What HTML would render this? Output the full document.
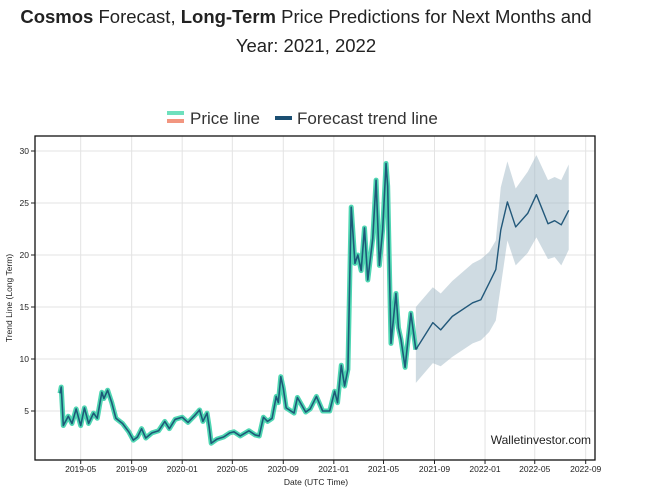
<!DOCTYPE html>
<html><head><meta charset="utf-8"><style>
body{margin:0;background:#fff;width:653px;height:499px;overflow:hidden;font-family:"Liberation Sans",sans-serif;}
svg{position:absolute;left:0;top:0}
</style></head><body>
<svg id="chart" width="653" height="499">
<text x="306" y="23" text-anchor="middle" font-size="18.5" fill="#222"><tspan font-weight="bold">Cosmos</tspan> Forecast, <tspan font-weight="bold">Long-Term</tspan> Price Predictions for Next Months and</text>
<text x="306" y="52" text-anchor="middle" font-size="18.5" fill="#222">Year: 2021, 2022</text>
<g>
<rect x="167" y="111" width="17" height="4" fill="#6ee0bd"/>
<rect x="167" y="119" width="17" height="4" fill="#f29680"/>
<text x="190" y="124" font-size="17" fill="#333">Price line</text>
<rect x="275" y="116" width="17" height="4" fill="#1b4f72"/>
<text x="297" y="124" font-size="17" fill="#333">Forecast trend line</text>
</g>
<g id="grid"></g>
<g id="marks"></g>
<rect x="35" y="136" width="560" height="324" fill="none" stroke="#111" stroke-width="1.3"/>
<g id="axes"></g>
<text x="591" y="444" text-anchor="end" font-size="12" fill="#222">Walletinvestor.com</text>
<text x="316" y="485" text-anchor="middle" font-size="8.5" fill="#222">Date (UTC Time)</text>
<text transform="translate(12,298) rotate(-90)" text-anchor="middle" font-size="8.5" fill="#222">Trend Line (Long Term)</text>
</svg>
<script>
const yTicks=[5,10,15,20,25,30];
const xTicks=["2019-05","2019-09","2020-01","2020-05","2020-09","2021-01","2021-05","2021-09","2022-01","2022-05","2022-09"];
const priceDates=["2019-03-12","2019-03-15","2019-03-20","2019-04-01","2019-04-10","2019-04-20","2019-05-01","2019-05-10","2019-05-20","2019-06-01","2019-06-10","2019-06-21","2019-06-26","2019-07-05","2019-07-15","2019-07-25","2019-08-10","2019-08-25","2019-09-05","2019-09-15","2019-09-25","2019-10-05","2019-10-20","2019-11-05","2019-11-20","2019-12-01","2019-12-15","2020-01-01","2020-01-15","2020-02-01","2020-02-12","2020-02-20","2020-03-01","2020-03-06","2020-03-11","2020-03-25","2020-04-10","2020-04-25","2020-05-05","2020-05-20","2020-06-10","2020-06-25","2020-07-05","2020-07-15","2020-07-25","2020-08-05","2020-08-15","2020-08-20","2020-08-26","2020-09-01","2020-09-08","2020-09-27","2020-10-05","2020-10-25","2020-11-05","2020-11-20","2020-12-05","2020-12-22","2021-01-03","2021-01-10","2021-01-19","2021-01-27","2021-02-04","2021-02-12","2021-02-21","2021-02-28","2021-03-08","2021-03-16","2021-03-24","2021-04-05","2021-04-13","2021-04-21","2021-04-29","2021-05-07","2021-05-11","2021-05-19","2021-05-31","2021-06-06","2021-06-12","2021-06-22","2021-07-06","2021-07-18"];
const priceValues=[6.7,7.3,3.6,4.5,3.8,5.2,3.6,5.3,3.8,4.8,4.3,6.8,6.2,7.0,5.8,4.3,3.8,3.0,2.2,2.5,3.3,2.4,2.9,3.1,4.0,3.3,4.2,4.4,3.9,4.6,5.1,4.0,4.8,3.5,1.9,2.3,2.5,2.9,3.0,2.6,3.1,2.7,2.6,4.4,4.0,4.3,6.4,5.8,8.3,7.2,5.3,4.8,6.3,4.9,5.2,6.4,5.0,5.0,6.9,5.8,9.4,7.4,9.0,24.6,19.2,20.0,18.5,22.6,17.6,21.6,27.2,19.0,22.5,28.8,26.6,11.5,16.3,13.0,11.9,9.2,14.4,10.9];
const fcDates=["2021-07-18","2021-08-28","2021-09-16","2021-10-14","2021-12-02","2021-12-22","2022-01-11","2022-01-27","2022-02-08","2022-02-24","2022-03-16","2022-04-14","2022-05-05","2022-06-02","2022-06-18","2022-07-04","2022-07-22"];
const fcValues=[10.9,13.5,12.8,14.1,15.4,15.7,17.3,18.6,22.4,25.1,22.7,24,25.8,23,23.3,22.9,24.3];
const fcUpper=[15,16.9,16.3,17.5,19.2,19.6,20.3,21.4,26.5,29,26.4,28,29.6,27.2,27.5,27.2,28.7];
const fcLower=[7.7,9.6,9.3,10.2,11.5,11.8,12.6,13.7,17,21.4,19,20.2,21.7,19.6,19.8,19,20.5];

const NS="http://www.w3.org/2000/svg";
const t0=Date.parse("2019-05-01"),t1=Date.parse("2022-09-01");
function xS(d){const t=Date.parse(d.length===7?d+"-01":d);return 80.7+(t-t0)/(t1-t0)*505;}
function yS(v){return 463-v*10.4;}
function mk(tag,attrs,parent){const e=document.createElementNS(NS,tag);for(const k in attrs)e.setAttribute(k,attrs[k]);parent.appendChild(e);return e;}
const grid=document.getElementById('grid'),marks=document.getElementById('marks'),axes=document.getElementById('axes');
yTicks.forEach(v=>{
 const l=mk('line',{x1:35,x2:595,y1:yS(v),y2:yS(v),stroke:'#e3e3e3','stroke-width':1},grid);
 
 
 const tk=mk('line',{x1:31,x2:35,y1:yS(v),y2:yS(v),stroke:'#222'},axes);
 
 
 const t=mk('text',{x:29,y:yS(v)+3,'text-anchor':'end','font-size':8.5,fill:'#222'},axes);
 t.textContent=v;
 
 
});
xTicks.forEach(d=>{
 const x=xS(d);
 const l=mk('line',{x1:x,x2:x,y1:136,y2:460,stroke:'#e3e3e3','stroke-width':1},grid);
 
 
 const tk=mk('line',{x1:x,x2:x,y1:460,y2:464,stroke:'#222'},axes);
 
 
 const t=mk('text',{x:x,y:472,'text-anchor':'middle','font-size':8.5,fill:'#222'},axes);
 t.textContent=d;
 
 
});
let band=fcDates.map((d,i)=>xS(d)+','+yS(fcUpper[i])).join(' ')+' '+fcDates.map((d,i)=>xS(d)+','+yS(fcLower[i])).reverse().join(' ');
const b=mk('polygon',{points:band,fill:'#9fb7c6','fill-opacity':0.5},marks);


const pp=priceDates.map((d,i)=>xS(d)+','+yS(priceValues[i])).join(' ');
const p1=mk('polyline',{points:pp,fill:'none',stroke:'#4fd6b2','stroke-width':5,'stroke-linejoin':'round'},marks);


const p2=mk('polyline',{points:pp,fill:'none',stroke:'#1d5a78','stroke-width':1.6,'stroke-linejoin':'round'},marks);


const fp=fcDates.map((d,i)=>xS(d)+','+yS(fcValues[i])).join(' ');
const f=mk('polyline',{points:fp,fill:'none',stroke:'#22587a','stroke-width':1.4,'stroke-linejoin':'round'},marks);


</script>
</body></html>
